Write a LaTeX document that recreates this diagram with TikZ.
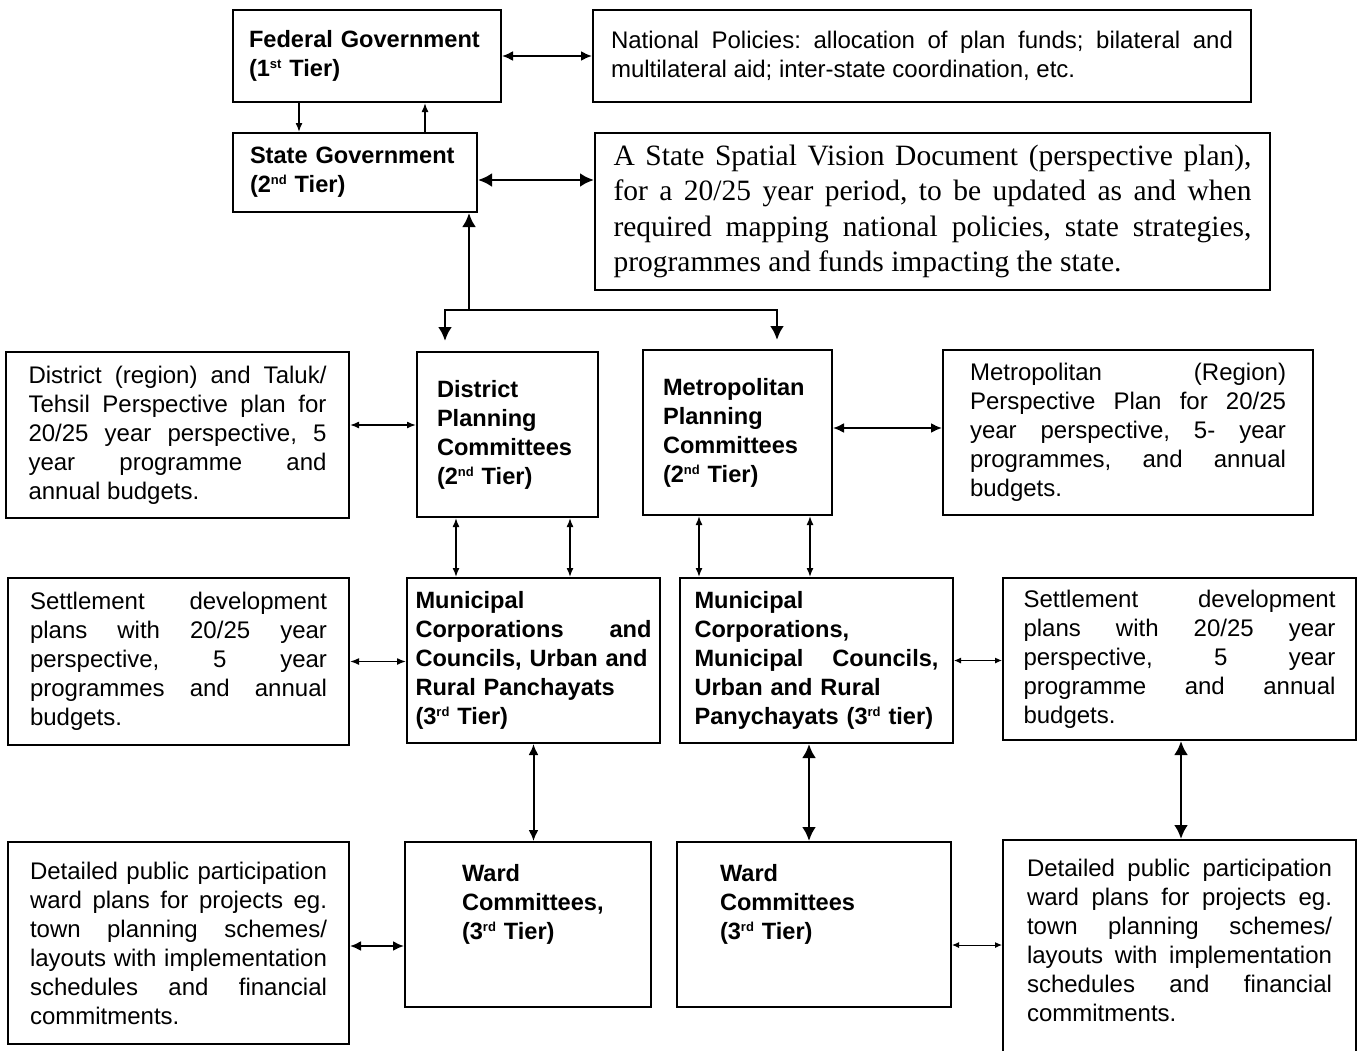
\documentclass[tikz,border=0pt]{standalone}
\usepackage{fontspec}
\setmainfont{Liberation Sans}
\newfontfamily\timesfont{Liberation Serif}
\usepackage{tikz}
\usetikzlibrary{shapes.geometric, arrows, arrows.meta}
\newcommand{\tierfont}{\fontsize{23.6}{29}\selectfont\bfseries}
\newcommand{\notefont}{\fontsize{24}{29}\selectfont}
\newcommand{\visionfont}{\timesfont\fontsize{29.5}{35.5}\selectfont}
\newcommand{\tiersup}[1]{\raisebox{8pt}{\fontsize{13}{13}\selectfont #1}}
\newcommand{\wardin}{\hspace*{37pt}}
\tikzstyle{tier} = [rectangle, draw=black, line width=2pt, inner sep=0pt, font=\tierfont, align=left]
\tikzstyle{note} = [rectangle, draw=black, line width=2pt, inner sep=0pt, font=\notefont, align=justify]
\tikzstyle{thinarrow} = [line width=1pt, <->, >={Latex[length=7pt,width=6pt]}]
\tikzstyle{arrow} = [line width=1.5pt, <->, >={Latex[length=9pt,width=7pt]}]
\tikzstyle{midarrow} = [line width=2pt, <->, >={Latex[length=11pt,width=10pt]}]
\tikzstyle{boldarrow} = [line width=2.8pt, <->, >={Latex[length=14pt,width=14pt]}]
\tolerance=10000
\hyphenpenalty=10000
\hbadness=10000
\frenchspacing

\begin{document}
\begin{tikzpicture}[x=1pt, y=-1pt]
\useasboundingbox (0,0) rectangle (1359,1050);
% government tiers
\node (FG) [tier, minimum width=268pt, minimum height=92pt, text width=236pt] at (367,56) {Federal Government\\(1\tiersup{st} Tier)};
\node (NP) [note, minimum width=658pt, minimum height=92pt, text width=622pt] at (922,56) {National Policies: allocation of plan funds; bilateral and\linebreak multilateral aid; inter-state coordination, etc.};
\node (SG) [tier, minimum width=244pt, minimum height=79pt, text width=210pt] at (355,172.5) {State Government\\(2\tiersup{nd} Tier)};
\node (SSV) [note, font=\visionfont, minimum width=675pt, minimum height=157pt, text width=638pt] at (932.5,211.5) {A State Spatial Vision Document (perspective plan),\linebreak for a 20/25 year period, to be updated as and when\linebreak required mapping national policies, state strategies,\linebreak programmes and funds impacting the state.};
% planning committees
\node (DT) [note, minimum width=343pt, minimum height=166pt, text width=298pt] at (177.5,435) {District (region) and Taluk/\linebreak Tehsil Perspective plan for\linebreak 20/25 year perspective, 5\linebreak year programme and\linebreak annual budgets.};
\node (DPC) [tier, minimum width=181pt, minimum height=165pt, text width=141pt] at (507.5,434.5) {District\\Planning\\Committees\\(2\tiersup{nd} Tier)};
\node (MPC) [tier, minimum width=189pt, minimum height=165pt, text width=149pt] at (737.5,432.5) {Metropolitan\\Planning\\Committees\\(2\tiersup{nd} Tier)};
\node (MT) [note, minimum width=370pt, minimum height=165pt, text width=316pt] at (1128,432.5) {Metropolitan (Region)\linebreak Perspective Plan for 20/25\linebreak year perspective, 5- year\linebreak programmes, and annual\linebreak budgets.};
% local bodies
\node (SL) [note, minimum width=341pt, minimum height=167pt, text width=297pt] at (178.5,661.5) {Settlement development\linebreak plans with 20/25 year\linebreak perspective, 5 year\linebreak programmes and annual\linebreak budgets.};
\node (ML) [tier, minimum width=253pt, minimum height=165pt, text width=236pt] at (533.5,660.5) {Municipal\\Corporations\hfill and\\Councils, Urban and\\Rural Panchayats\\(3\tiersup{rd} Tier)};
\node (MR) [tier, minimum width=273pt, minimum height=165pt, text width=244pt] at (816.5,660.5) {Municipal\\Corporations,\\Municipal\hfill Councils,\\Urban and Rural\\Panychayats (3\tiersup{rd} tier)};
\node (SR) [note, minimum width=353pt, minimum height=162pt, text width=312pt] at (1179.5,659) {Settlement development\linebreak plans with 20/25 year\linebreak perspective, 5 year\linebreak programme and annual\linebreak budgets.};
% ward level
\node (DL) [note, minimum width=341pt, minimum height=202pt, text width=297pt] at (178.5,943) {Detailed public participation\linebreak ward plans for projects eg.\linebreak town planning schemes/\linebreak layouts with implementation\linebreak schedules and financial\linebreak commitments.};
\node (WL) [tier, minimum width=246pt, minimum height=165pt, text width=206pt] at (528,924.5) {\wardin Ward\\\wardin Committees,\\\wardin (3\tiersup{rd} Tier)\rule[-45pt]{0pt}{0pt}};
\node (WR) [tier, minimum width=274pt, minimum height=165pt, text width=188pt] at (814,924.5) {Ward\\Committees\\(3\tiersup{rd} Tier)\rule[-46pt]{0pt}{0pt}};
\node (DR) [note, minimum width=353pt, minimum height=213pt, text width=305pt] at (1179.5,946.5) {Detailed public participation\linebreak ward plans for projects eg.\linebreak town planning schemes/\linebreak layouts with implementation\linebreak schedules and financial\linebreak commitments.\rule[-12pt]{0pt}{0pt}};
\coordinate (fork) at (469,310);
% connectors
\draw [midarrow] (FG.east) -- (NP.west);
\draw [arrow, ->] ([xshift=-68pt]FG.south) -- ([xshift=-68pt]FG.south |- SG.north);
\draw [arrow, ->] ([xshift=70pt]SG.north) -- ([xshift=70pt]SG.north |- FG.south);
\draw [boldarrow] ([yshift=-7.5pt]SG.east) -- ([yshift=-7.5pt]SG.east -| SSV.west);
\draw [boldarrow, ->] (fork) -- (fork |- SG.south);
\draw [boldarrow, ->, shorten >=10pt] (fork) -| ([xshift=-62.5pt]DPC.north);
\draw [boldarrow, ->, shorten >=9pt] (fork) -| ([xshift=39.5pt]MPC.north);
\draw [arrow] ([yshift=10pt]DT.east) -- ([yshift=10pt]DT.east -| DPC.west);
\draw [midarrow] ([yshift=4.5pt]MPC.east) -- ([yshift=4.5pt]MPC.east -| MT.west);
\draw [arrow] ([xshift=-51.5pt]DPC.south) -- ([xshift=-51.5pt]DPC.south |- ML.north);
\draw [arrow] ([xshift=62.5pt]DPC.south) -- ([xshift=62.5pt]DPC.south |- ML.north);
\draw [arrow] ([xshift=-38.5pt]MPC.south) -- ([xshift=-38.5pt]MPC.south |- MR.north);
\draw [arrow] ([xshift=72.5pt]MPC.south) -- ([xshift=72.5pt]MPC.south |- MR.north);
\draw [arrow] (SL.east) -- (SL.east -| ML.west);
\draw [thinarrow] (MR.east) -- (MR.east -| SR.west);
\draw [midarrow] (ML.south) -- (ML.south |- WL.north);
\draw [boldarrow] ([xshift=-7.5pt]MR.south) -- ([xshift=-7.5pt]MR.south |- WR.north);
\draw [boldarrow] ([xshift=1.5pt]SR.south) -- ([xshift=1.5pt]SR.south |- DR.north);
\draw [midarrow] ([yshift=-3pt]DL.east) -- ([yshift=-3pt]DL.east -| WL.west);
\draw [thinarrow] ([yshift=-20.5pt]WR.east) -- ([yshift=-20.5pt]WR.east -| DR.west);
\end{tikzpicture}
\end{document}
